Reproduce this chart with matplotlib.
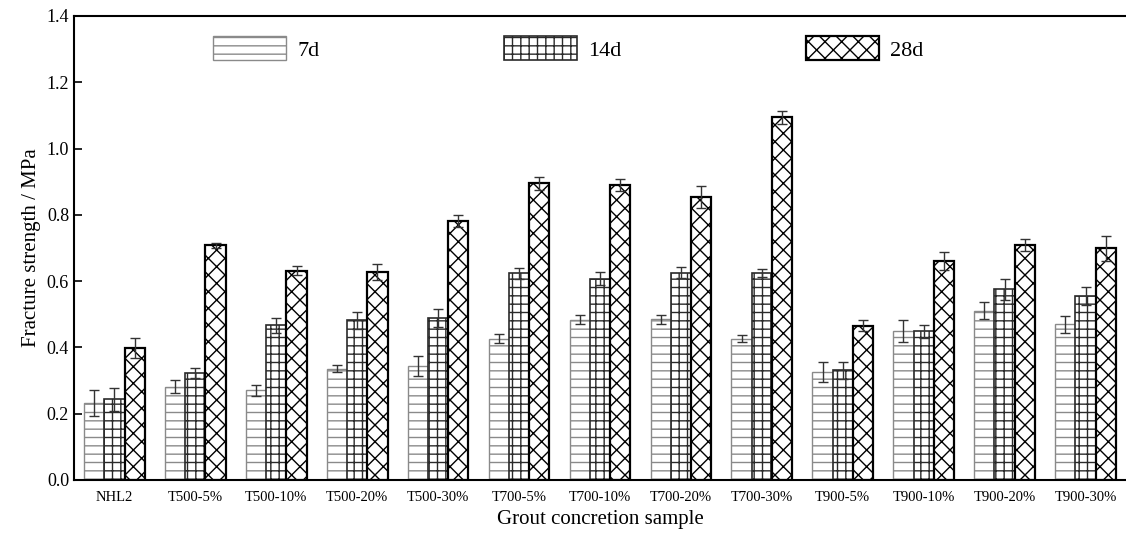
import numpy as np
import matplotlib
matplotlib.use('Agg')
import matplotlib.pyplot as plt

plt.rcParams['font.family'] = ['Liberation Serif', 'DejaVu Serif']
plt.rcParams['hatch.linewidth'] = 1.0

# sample names on the x axis
samples = ['NHL2', 'T500-5%', 'T500-10%', 'T500-20%', 'T500-30%',
           'T700-5%', 'T700-10%', 'T700-20%', 'T700-30%',
           'T900-5%', 'T900-10%', 'T900-20%', 'T900-30%']

# fracture strength (MPa)
d7 = [0.233, 0.282, 0.271, 0.336, 0.344, 0.426, 0.484, 0.485, 0.426,
      0.327, 0.450, 0.511, 0.470]
d7_err = [0.039, 0.021, 0.017, 0.010, 0.030, 0.014, 0.014, 0.014, 0.011,
          0.030, 0.033, 0.026, 0.026]
d14 = [0.244, 0.323, 0.467, 0.482, 0.488, 0.624, 0.607, 0.626, 0.624,
       0.331, 0.449, 0.575, 0.554]
d14_err = [0.035, 0.015, 0.023, 0.026, 0.027, 0.017, 0.020, 0.018, 0.013,
           0.026, 0.020, 0.031, 0.027]
d28 = [0.399, 0.708, 0.632, 0.627, 0.782, 0.895, 0.889, 0.854, 1.094,
       0.466, 0.661, 0.710, 0.699]
d28_err = [0.030, 0.007, 0.014, 0.025, 0.018, 0.020, 0.018, 0.034, 0.020,
           0.016, 0.026, 0.018, 0.038]

series = [
    ('7d', d7, d7_err, '--', '#8a8a8a', 1.0),
    ('14d', d14, d14_err, '++', '#2a2a2a', 1.2),
    ('28d', d28, d28_err, 'xx', '#000000', 1.6),
]

fig = plt.figure(figsize=(11.26, 5.36), dpi=100)
ax = fig.add_axes([0.0657, 0.1045, 0.9343, 0.8657])

x = np.arange(len(samples))
width = 0.25
offsets = [-width, 0, width]

for (name, vals, errs, hatch, ec, lw), off in zip(series, offsets):
    ax.bar(x + off, vals, width, color='white', edgecolor=ec, linewidth=lw,
           hatch=hatch, label=name, zorder=2)
    ax.errorbar(x + off, vals, yerr=errs, fmt='none', ecolor='#333333',
                elinewidth=1.0, capsize=3.3, capthick=1.0, zorder=3)

ax.set_xlim(-0.5, 12.5)
ax.set_ylim(0, 1.4)
ax.set_yticks(np.arange(0, 1.41, 0.2))
ax.set_yticklabels([f'{v:.1f}' for v in np.arange(0, 1.41, 0.2)])
ax.set_xticks(x)
ax.set_xticklabels(samples, fontsize=10.5)
ax.tick_params(axis='y', direction='in', length=6, width=1.2, labelsize=13)
ax.tick_params(axis='x', length=0, pad=8)

ax.spines['right'].set_visible(False)
for s in ['left', 'bottom', 'top']:
    ax.spines[s].set_linewidth(1.5)

ax.set_ylabel('Fracture strength / MPa', fontsize=15)
ax.set_xlabel('Grout concretion sample', fontsize=15, labelpad=4)

ax.legend(loc='upper left', bbox_to_anchor=(0.113, 1.0), ncol=3,
          frameon=False, fontsize=16, handlelength=3.3, handleheight=1.3,
          columnspacing=8.3, handletextpad=0.5)

fig.savefig('out.png', dpi=100)
